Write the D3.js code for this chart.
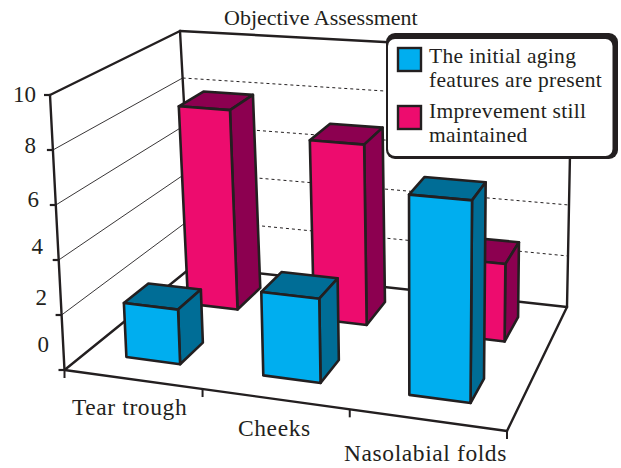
<!DOCTYPE html>
<html>
<head>
<meta charset="utf-8">
<script src="https://cdn.jsdelivr.net/npm/d3@7"></script>
<style>
  html, body { margin: 0; background: #fff; }
  text { font-family: "Liberation Serif", serif; fill: #231f20; }
</style>
</head>
<body>
<svg width="621" height="468"></svg>
<script>
let categories = ['Tear trough', 'Cheeks', 'Nasolabial folds']
let seriesNames = ['Imprevement still maintained', 'The initial aging features are present']
let initialValues = [2, 3, 7]
let improvementValues = [7.9, 6.95, 2.9]
let valueTicks = [0, 2, 4, 6, 8, 10]

let ink = '#231f20'
let blue = { front: '#00aeef', dark: '#006d96' }
let pink = { front: '#ed0c6e', dark: '#8c0050' }

// corners of the 3d box as they land on the page
let floor = { fl: [64.5, 370], fr: [507, 431], br: [567, 307], bl: [193, 266] }
let roof = { fl: [50, 95], fr: [511, 131], br: [572, 52], bl: [180, 31] }

let yScale = d3.scaleLinear().domain([0, 10]).range([0, 1])
let xBand = d3.scaleBand().domain(categories).range([0, 1]).paddingInner(0.6).paddingOuter(0.3)
let zBand = d3.scaleBand().domain(seriesNames.slice().reverse()).range([0.175, 0.88]).paddingInner(0.604)

// categories get wider towards the viewer
let warp = u => 0.907 * u / (1 - 0.093 * u)

function corner(q, u, v) {
  let a = d3.interpolate(q.fl, q.fr)(u)
  let b = d3.interpolate(q.bl, q.br)(u)
  return d3.interpolate(a, b)(v)
}

function project(u, v, val) {
  let w = warp(u)
  return d3.interpolate(corner(floor, w, v), corner(roof, w, v))(yScale(val))
}

let svg = d3.select('svg')
let line = d3.line()
let poly = pts => line(pts) + 'Z'

// walls
let walls = svg.append('g').attr('fill', 'none').attr('stroke', ink)

walls.selectAll('path.side')
  .data(valueTicks.slice(1, -1))
  .enter()
  .append('path')
  .attr('class', 'side')
  .attr('stroke-width', 0.9)
  .attr('d', d => line([project(0, 0, d), project(0, 1, d)]))

walls.selectAll('path.back')
  .data(valueTicks.slice(1, -1))
  .enter()
  .append('path')
  .attr('class', 'back')
  .attr('stroke-width', 1)
  .attr('stroke-dasharray', '3,3')
  .attr('d', d => line([project(0, 1, d), project(1, 1, d)]))

let outline = [
  [[0, 0, 0], [0, 0, 10]],
  [[0, 0, 10], [0, 1, 10]],
  [[0, 1, 10], [1, 1, 10]],
  [[0, 1, 0], [0, 1, 10]],
  [[1, 1, 0], [1, 1, 10]],
  [[0, 0, 0], [0, 1, 0]],
  [[0, 1, 0], [1, 1, 0]],
  [[1, 1, 0], [1, 0, 0]],
  [[0, 0, 0], [1, 0, 0]]
]

walls.selectAll('path.edge')
  .data(outline)
  .enter()
  .append('path')
  .attr('class', 'edge')
  .attr('stroke-width', 2.4)
  .attr('stroke-linecap', 'round')
  .attr('d', d => line(d.map(p => project(p[0], p[1], p[2]))))

// value ticks and labels, the labels drift away from their ticks in the original
let valueLabelPos = [[49, 352], [47, 305], [43, 254], [39, 207], [36, 153], [36, 102]]

walls.selectAll('path.vtick')
  .data(valueTicks)
  .enter()
  .append('path')
  .attr('class', 'vtick')
  .attr('stroke-width', 2.2)
  .attr('d', d => {
    let p = project(0, 0, d)
    return line([[p[0] - 6, p[1]], p])
  })

svg.selectAll('text.value')
  .data(valueTicks)
  .enter()
  .append('text')
  .attr('class', 'value')
  .attr('text-anchor', 'end')
  .attr('font-size', 23)
  .attr('x', (d, i) => valueLabelPos[i][0])
  .attr('y', (d, i) => valueLabelPos[i][1])
  .text(d => d)

// category ticks and labels
walls.selectAll('path.ctick')
  .data(d3.range(categories.length + 1))
  .enter()
  .append('path')
  .attr('class', 'ctick')
  .attr('stroke-width', 2)
  .attr('d', d => {
    let p = project(d / categories.length, 0, 0)
    return line([p, [p[0], p[1] + 8]])
  })

let categoryLabelPos = [[72, 415], [238, 436], [344, 461]]

svg.selectAll('text.category')
  .data(categories)
  .enter()
  .append('text')
  .attr('class', 'category')
  .attr('font-size', 23.5)
  .attr('letter-spacing', 0.6)
  .attr('x', (d, i) => categoryLabelPos[i][0])
  .attr('y', (d, i) => categoryLabelPos[i][1])
  .text(d => d)

// bars, back row first
let rows = [
  { name: seriesNames[0], values: improvementValues, color: pink },
  { name: seriesNames[1], values: initialValues, color: blue }
]

let bars = rows.flatMap(r => r.values.map((val, i) => ({
  val,
  color: r.color,
  u0: xBand(categories[i]),
  u1: xBand(categories[i]) + xBand.bandwidth(),
  v0: zBand(r.name),
  v1: zBand(r.name) + zBand.bandwidth()
})))

let barG = svg.selectAll('g.bar')
  .data(bars)
  .enter()
  .append('g')
  .attr('class', 'bar')
  .attr('stroke', ink)
  .attr('stroke-width', 2.6)
  .attr('stroke-linejoin', 'round')

barG.append('path')
  .attr('fill', d => d.color.dark)
  .attr('d', d => poly([project(d.u0, d.v0, d.val), project(d.u1, d.v0, d.val), project(d.u1, d.v1, d.val), project(d.u0, d.v1, d.val)]))

barG.append('path')
  .attr('fill', d => d.color.dark)
  .attr('d', d => poly([project(d.u1, d.v0, 0), project(d.u1, d.v1, 0), project(d.u1, d.v1, d.val), project(d.u1, d.v0, d.val)]))

barG.append('path')
  .attr('fill', d => d.color.front)
  .attr('d', d => poly([project(d.u0, d.v0, 0), project(d.u1, d.v0, 0), project(d.u1, d.v0, d.val), project(d.u0, d.v0, d.val)]))

// title
svg.append('text')
  .attr('x', 224)
  .attr('y', 25)
  .attr('font-size', 22)
  .text('Objective Assessment')

// legend
let legend = svg.append('g')

legend.append('rect')
  .attr('x', 386).attr('y', 33)
  .attr('width', 232).attr('height', 126)
  .attr('rx', 9)
  .attr('fill', ink)

legend.append('rect')
  .attr('x', 388).attr('y', 39)
  .attr('width', 224.5).attr('height', 117)
  .attr('rx', 7)
  .attr('fill', '#fff')

let legendItems = [
  { color: blue.front, lines: ['The initial aging', 'features are present'], y: 48, base: 63 },
  { color: pink.front, lines: ['Imprevement still', 'maintained'], y: 106, base: 118 }
]

legend.selectAll('rect.swatch')
  .data(legendItems)
  .enter()
  .append('rect')
  .attr('class', 'swatch')
  .attr('x', 398)
  .attr('y', d => d.y)
  .attr('width', 23)
  .attr('height', 23)
  .attr('fill', d => d.color)
  .attr('stroke', ink)
  .attr('stroke-width', 2.4)

legend.selectAll('g.item')
  .data(legendItems)
  .enter()
  .append('g')
  .attr('class', 'item')
  .selectAll('text')
  .data(d => d.lines.map((t, i) => ({ t, y: d.base + i * 24 })))
  .enter()
  .append('text')
  .attr('x', 429)
  .attr('y', d => d.y)
  .attr('font-size', 21.5)
  .attr('letter-spacing', 0.3)
  .text(d => d.t)
</script>
</body>
</html>
